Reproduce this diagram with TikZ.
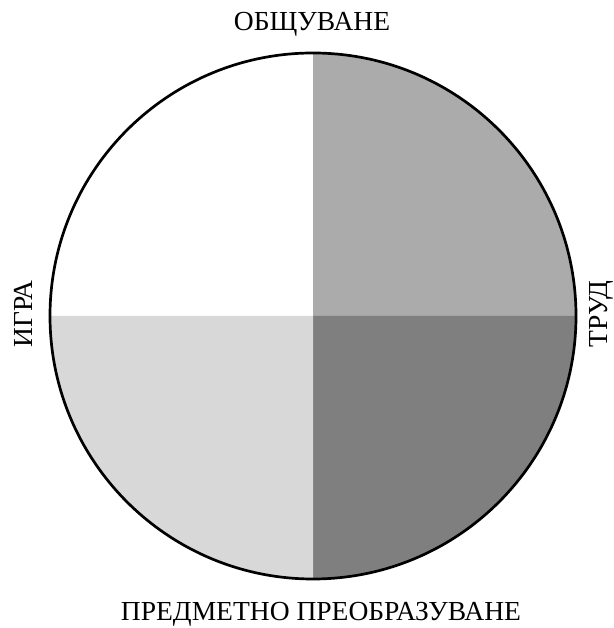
\documentclass[tikz,border=0pt]{standalone}
\usepackage{fontspec}
\setmainfont{Liberation Serif}
\definecolor{quadmid}{HTML}{ABABAB}
\definecolor{quaddark}{HTML}{7F7F7F}
\definecolor{quadlight}{HTML}{D8D8D8}
\tikzset{
  label text/.style={font=\fontsize{23.5}{27}\selectfont, inner sep=0pt}
}
\begin{document}
\begin{tikzpicture}[x=0.03cm,y=0.03cm]
  \useasboundingbox (0,0) rectangle (613,628);
  \coordinate (c) at (313,312);
  % quadrants
  \fill[quadmid] (c) -- ++(0,263) arc (90:0:263) -- cycle;
  \fill[quaddark] (c) -- ++(263,0) arc (0:-90:263) -- cycle;
  \fill[quadlight] (c) -- ++(0,-263) arc (-90:-180:263) -- cycle;
  \draw[line width=2.3pt] (c) circle (263);

  \node[label text] (obsht) at (312,604) {ОБЩУВАНЕ};
  \node[label text,rotate=90] (igra) at (23,314) {ИГРА};
  \node[label text,rotate=90] (trud) at (601,314) {ТРУД};
  \node[label text] (predm) at (321,14) {ПРЕДМЕТНО ПРЕОБРАЗУВАНЕ};
\end{tikzpicture}
\end{document}
